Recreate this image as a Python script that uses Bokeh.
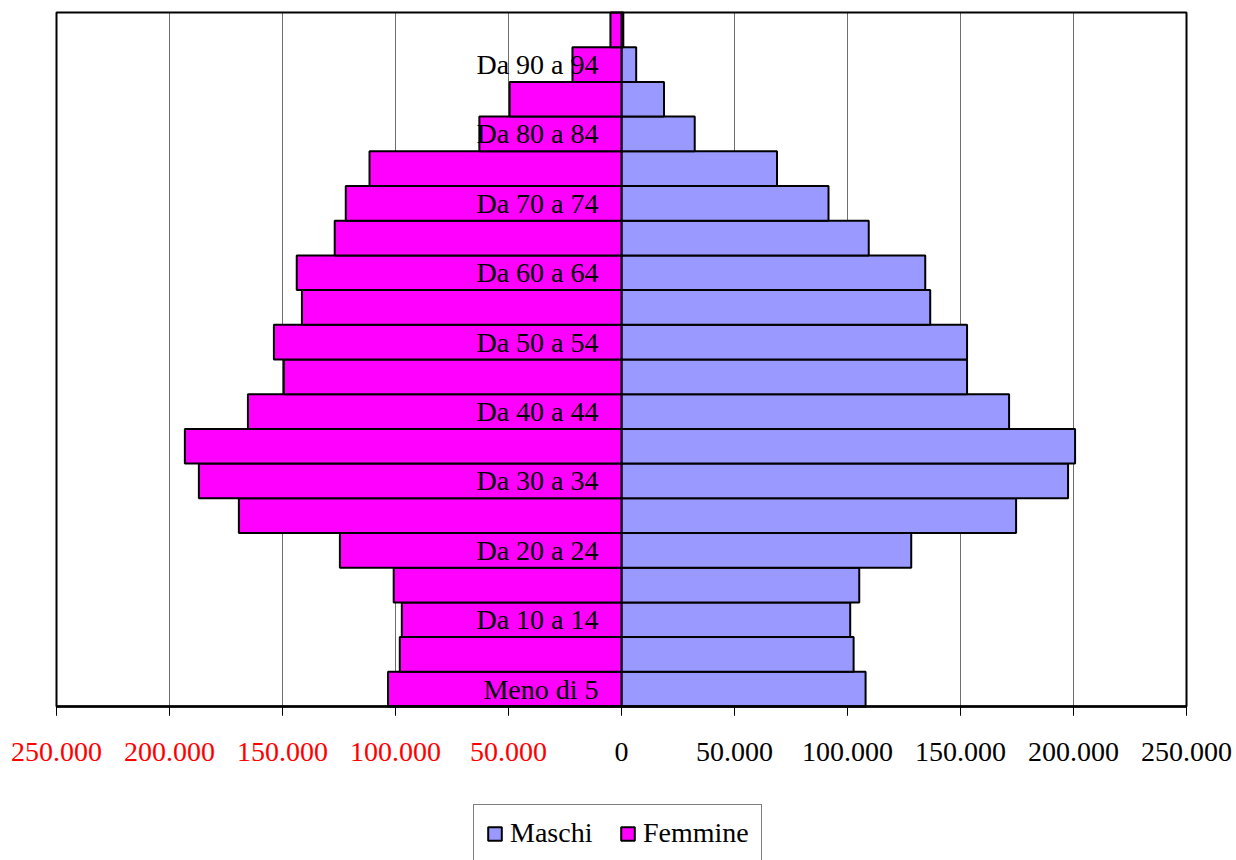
from bokeh.plotting import figure
from bokeh.models import (Range1d, FixedTicker, ColumnDataSource, LinearAxis,
                          Legend, LegendItem)
from bokeh.core.properties import value
from bokeh.embed import file_html
from bokeh.resources import INLINE

# Age classes, bottom (youngest) to top (oldest)
categories = ["Meno di 5", "Da 5 a 9", "Da 10 a 14", "Da 15 a 19", "Da 20 a 24",
              "Da 25 a 29", "Da 30 a 34", "Da 35 a 39", "Da 40 a 44", "Da 45 a 49",
              "Da 50 a 54", "Da 55 a 59", "Da 60 a 64", "Da 65 a 69", "Da 70 a 74",
              "Da 75 a 79", "Da 80 a 84", "Da 85 a 89", "Da 90 a 94", "95 e oltre"]
# category labels actually shown on the axis (every other one)
shown_labels = ["Meno di 5", "Da 10 a 14", "Da 20 a 24", "Da 30 a 34", "Da 40 a 44",
                "Da 50 a 54", "Da 60 a 64", "Da 70 a 74", "Da 80 a 84", "Da 90 a 94"]

maschi = [108000, 102700, 101200, 105200, 128200, 174600, 197600, 200700, 171500, 152900,
          152900, 136600, 134400, 109400, 91600, 68800, 32400, 18800, 6500, 800]
femmine = [103300, 98100, 97200, 100800, 124600, 169300, 187000, 193200, 165300, 149400,
           153800, 141400, 143700, 126900, 122000, 111500, 62900, 49500, 21700, 4900]

tick_values = [-250000, -200000, -150000, -100000, -50000, 0,
               50000, 100000, 150000, 200000, 250000]
tick_labels = ["250.000", "200.000", "150.000", "100.000", "50.000", "0",
               "50.000", "100.000", "150.000", "200.000", "250.000"]

FONT = "Liberation Serif"
W, H = 1236, 860
# plot-box margins in pixels (left, right, top, bottom)
ML, MR, MT, MB = 56, 50, 12, 154

xmin, xmax = tick_values[0], tick_values[-1]
ymin, ymax = -0.5, len(categories) - 0.5
ux = (xmax - xmin) / (W - ML - MR)
uy = (ymax - ymin) / (H - MT - MB)

idx = list(range(len(categories)))
src = ColumnDataSource(dict(y=idx, cat=categories, m=maschi,
                            f=[-v for v in femmine], z=[0] * len(idx)))

p = figure(width=W, height=H,
           x_range=Range1d(xmin - ML * ux, xmax + MR * ux),
           y_range=Range1d(ymin - MB * uy, ymax + MT * uy),
           output_backend="svg", toolbar_location=None,
           y_axis_location=None, x_axis_location=None,
           min_border=0)

p.background_fill_color = "white"
p.border_fill_color = "white"
p.outline_line_color = None
p.xgrid.grid_line_color = None
p.ygrid.grid_line_color = None

# vertical grid lines inside the plot box
p.segment(x0=tick_values, x1=tick_values, y0=[ymin] * len(tick_values),
          y1=[ymax] * len(tick_values), line_color="#6e6e6e", line_width=1)

# bars
rm = p.hbar(y="y", left="z", right="m", height=1, source=src,
            fill_color="#9999FF", line_color="black", line_width=2)
rf = p.hbar(y="y", left="f", right="z", height=1, source=src,
            fill_color="#FF00FF", line_color="black", line_width=2)

# plot box border
p.quad(left=[xmin], right=[xmax], bottom=[ymin], top=[ymax],
       fill_color=None, line_color="black", line_width=2)

# category labels next to the zero line
lab_y = [categories.index(c) for c in shown_labels]
lab_src = ColumnDataSource(dict(x=[0] * len(shown_labels), y=lab_y, t=shown_labels))
p.text(x="x", y="y", text="t", source=lab_src, x_offset=-23,
       text_align="right", text_baseline="middle",
       text_font=value(FONT), text_font_size="28px", text_color="black")


def make_axis(color, keep):
    ax = LinearAxis(fixed_location=ymin, bounds=(xmin, xmax))
    ax.ticker = FixedTicker(ticks=tick_values)
    ax.major_label_overrides = {v: (l if keep(v) else "") for v, l in zip(tick_values, tick_labels)}
    ax.major_label_text_font = FONT
    ax.major_label_text_font_size = "28px"
    ax.major_label_text_color = color
    ax.major_label_standoff = 27
    ax.major_tick_out = 9
    ax.major_tick_in = 0
    ax.minor_tick_out = 0
    ax.minor_tick_in = 0
    ax.axis_line_color = "black"
    ax.axis_line_width = 2
    ax.major_tick_line_color = "black"
    ax.major_tick_line_width = 1
    return ax


# women's side labels are red, men's side black
p.add_layout(make_axis("black", lambda v: v >= 0), "below")
p.add_layout(make_axis("#FF0000", lambda v: v < 0), "below")

# legend
legend = Legend(items=[LegendItem(label="Maschi", renderers=[rm]),
                       LegendItem(label="Femmine", renderers=[rf])],
                orientation="horizontal", location=(473, -2))
legend.label_text_font = FONT
legend.label_text_font_size = "28px"
legend.label_text_color = "black"
legend.label_width = 97
legend.glyph_width = 17
legend.glyph_height = 17
legend.label_standoff = 7
legend.spacing = 12
legend.padding = 12
legend.margin = 0
legend.border_line_color = "black"
legend.border_line_width = 1
legend.background_fill_color = "white"
legend.background_fill_alpha = 1
p.add_layout(legend, "center")

open("out.html", "w").write(file_html(p, INLINE))
